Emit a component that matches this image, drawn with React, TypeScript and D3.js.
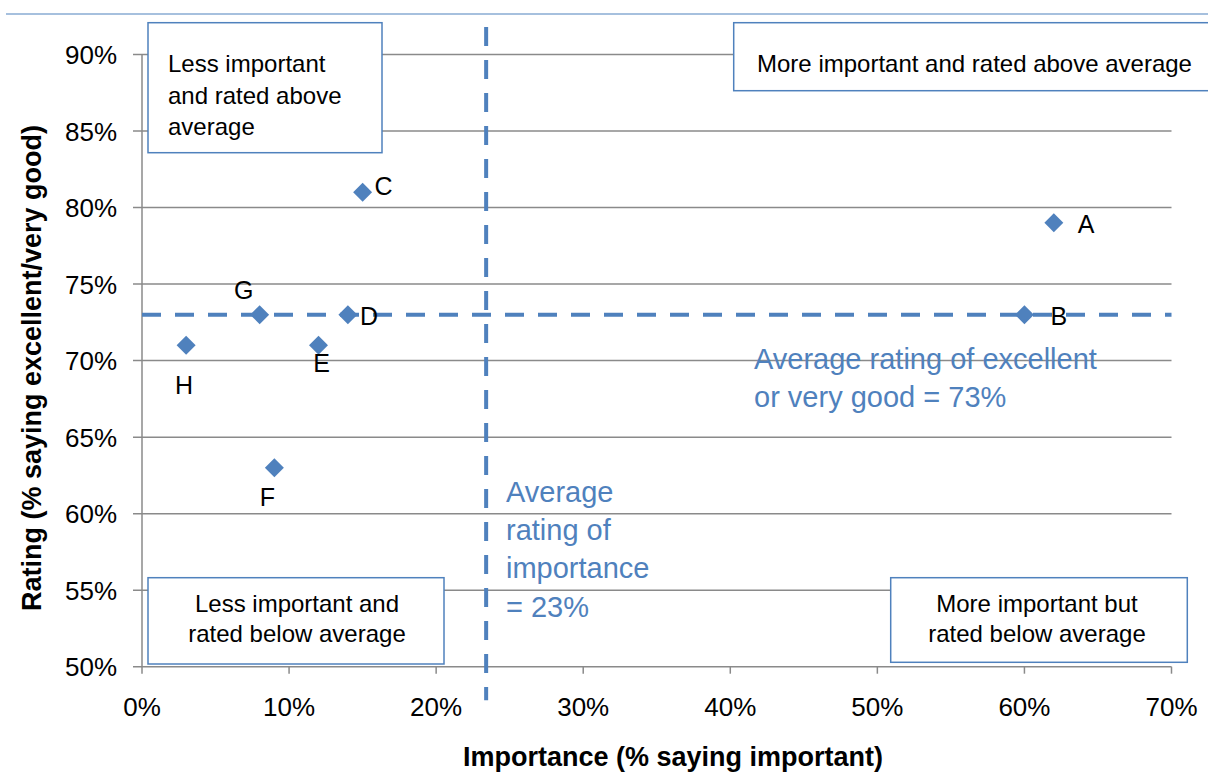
import React from 'react';
import * as d3 from 'd3';

// values (percent)
const pointNames = ['A', 'B', 'C', 'D', 'E', 'F', 'G', 'H'];
const importance = [62, 60, 15, 14, 12, 9, 8, 3];
const rating = [79, 73, 81, 73, 71, 63, 73, 71];

const xTickValues = [0, 10, 20, 30, 40, 50, 60, 70];
const yTickValues = [50, 55, 60, 65, 70, 75, 80, 85, 90];

const avgImportance = 23.4;
const avgRating = 73;
// vertical average line runs a bit past the plot in the original
const avgImportanceSpan = [47.8, 91.8];

// where each point's letter sits relative to its marker
const labelPlace: Record<string, [number, number, string]> = {
  A: [24, 10, 'start'],
  B: [26, 10, 'start'],
  C: [12, 3, 'start'],
  D: [12, 10, 'start'],
  E: [3, 27, 'middle'],
  F: [-7, 38, 'middle'],
  G: [-16, -16, 'middle'],
  H: [-2, 49, 'middle'],
};

const FONT = '"Liberation Sans", Arial, sans-serif';
const BLUE = '#4F81BD';
const GRID = '#8a8a8a';

function App() {
  const width = 1208;
  const height = 772;
  const margin = { t: 54.5, b: 105.3, l: 142, r: 36.5 };

  const x = d3.scaleLinear().domain([0, 70]).range([margin.l, width - margin.r]);
  const y = d3.scaleLinear().domain([50, 90]).range([height - margin.b, margin.t]);

  const diamond = d3.symbol().type(d3.symbolSquare).size(180)();

  const data = pointNames.map((n, i) => ({ n, imp: importance[i], rat: rating[i] }));

  const x0 = x(0);
  const x1 = x(70);
  const yBottom = y(50);

  return (
    <svg width={width} height={height} style={{ position: 'absolute', left: 0, top: 0 }}
         fontFamily={FONT}>
      <rect width={width} height={height} fill="#fff"/>
      {/* thin rule along the top */}
      <line x1={6} x2={width} y1={14} y2={14} stroke={BLUE} strokeWidth={1.2}/>

      {/* gridlines + y ticks */}
      {yTickValues.map(d => (
        <g key={'y' + d}>
          <line x1={x0 - 9} x2={x1} y1={y(d)} y2={y(d)} stroke={GRID} strokeWidth={1.5}/>
          <text x={117} y={y(d) + 9.5} fontSize={26} textAnchor="end" fill="#000">{d}%</text>
        </g>
      ))}
      <line x1={x0} x2={x0} y1={y(90)} y2={yBottom} stroke={GRID} strokeWidth={1.5}/>

      {/* x ticks */}
      {xTickValues.map(d => (
        <g key={'x' + d}>
          <line x1={x(d)} x2={x(d)} y1={yBottom} y2={yBottom + 7} stroke={GRID} strokeWidth={1.5}/>
          <text x={x(d)} y={716} fontSize={26} textAnchor="middle" fill="#000">{d}%</text>
        </g>
      ))}

      {/* average lines */}
      <line x1={x(0)} x2={x(70)} y1={y(avgRating)} y2={y(avgRating)}
            stroke={BLUE} strokeWidth={4} strokeDasharray="19 14"/>
      <line x1={x(avgImportance)} x2={x(avgImportance)}
            y1={y(avgImportanceSpan[1])} y2={y(avgImportanceSpan[0])}
            stroke={BLUE} strokeWidth={4} strokeDasharray="19 14"/>

      {/* points */}
      {data.map(d => {
        const [dx, dy, anchor] = labelPlace[d.n];
        return (
          <g key={d.n} transform={`translate(${x(d.imp)},${y(d.rat)})`}>
            <path d={diamond} transform="rotate(45)" fill={BLUE}/>
            <text x={dx} y={dy} fontSize={25} textAnchor={anchor} fill="#000">{d.n}</text>
          </g>
        );
      })}

      {/* quadrant boxes */}
      <g fontSize={24} fill="#000">
        <rect x={148} y={22.7} width={234} height={130} fill="#fff" stroke={BLUE} strokeWidth={1.5}/>
        <text x={168} y={72}>Less important</text>
        <text x={168} y={104}>and rated above</text>
        <text x={168} y={135}>average</text>

        <rect x={733.7} y={22.7} width={490} height={68} fill="#fff" stroke={BLUE} strokeWidth={1.5}/>
        <text x={974.5} y={72} textAnchor="middle">More important and rated above average</text>

        <rect x={148} y={577.7} width={296} height={86.3} fill="#fff" stroke={BLUE} strokeWidth={1.5}/>
        <text x={297} y={612} textAnchor="middle">Less important and</text>
        <text x={297} y={642} textAnchor="middle">rated below average</text>

        <rect x={890.7} y={577.7} width={296.6} height={84.6} fill="#fff" stroke={BLUE} strokeWidth={1.5}/>
        <text x={1037} y={612} textAnchor="middle">More important but</text>
        <text x={1037} y={642} textAnchor="middle">rated below average</text>
      </g>

      {/* average annotations */}
      <g fontSize={29} fill={BLUE}>
        <text x={506} y={502}>Average</text>
        <text x={506} y={540}>rating of</text>
        <text x={506} y={578}>importance</text>
        <text x={506} y={617}>= 23%</text>
        <text x={754} y={369}>Average rating of excellent</text>
        <text x={754} y={407}>or very good = 73%</text>
      </g>

      {/* axis titles */}
      <text x={673} y={766} fontSize={27} fontWeight="bold" textAnchor="middle" fill="#000">
        Importance (% saying important)
      </text>
      <text transform={`translate(41,${368}) rotate(-90)`} fontSize={27} fontWeight="bold"
            textAnchor="middle" fill="#000">
        Rating (% saying excellent/very good)
      </text>
    </svg>
  );
}

export default App;
